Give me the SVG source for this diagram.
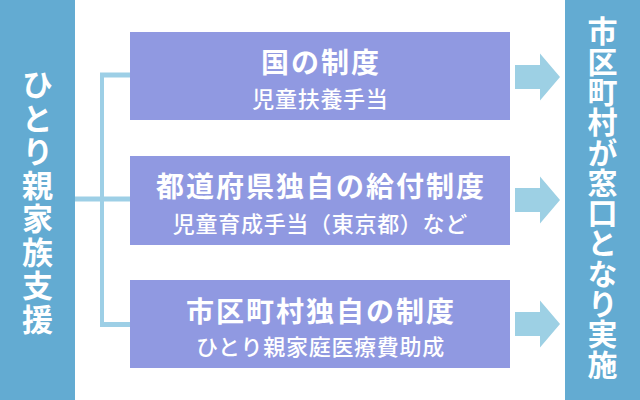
<svg xmlns="http://www.w3.org/2000/svg" width="640" height="400" viewBox="0 0 640 400">
<style>
.bar{fill:#63abd2}
.box{fill:#9099e1}
.line{stroke:#9dcfe6;fill:none}
.arrow{fill:#9dd0e4}
.t{font-family:"Noto Sans CJK JP","Noto Sans",sans-serif;fill:#ffffff}
.title{font-size:28px;font-weight:bold;letter-spacing:2px;text-anchor:middle;dominant-baseline:central}
.sub{font-size:22px;font-weight:500;letter-spacing:0.7px;text-anchor:middle;dominant-baseline:central}
.vert{writing-mode:vertical-rl;font-weight:bold}
</style>
<rect width="640" height="400" fill="#ffffff"/>
<g id="connectors">
<path class="line" stroke-width="4" d="M102,73 V327"/>
<path class="line" stroke-width="5" d="M100,75 H130 M75,199 H130 M100,324.5 H130"/>
<path class="arrow" d="M515,65 H540 V53.5 L560,77 L540,100.5 V89 H515 Z"/>
<path class="arrow" d="M515,188 H540 V176.5 L560,200 L540,223.5 V212 H515 Z"/>
<path class="arrow" d="M515,312 H540 V300.5 L560,324 L540,347.5 V336 H515 Z"/>
</g>
<g id="left">
<rect class="bar" x="0" y="0" width="75" height="400"/>
<text class="t vert" x="37.5" y="69" font-size="31" letter-spacing="2.5">ひとり親家族支援</text>
</g>
<g id="right">
<rect class="bar" x="565" y="0" width="75" height="400"/>
<text class="t vert" x="602.5" y="16" font-size="30" letter-spacing="0.3">市区町村が窓口となり実施</text>
</g>
<g id="box1">
<rect class="box" x="130" y="32" width="380" height="88"/>
<text class="t title" x="321" y="60.5">国の制度</text>
<text class="t sub" x="320.4" y="97">児童扶養手当</text>
</g>
<g id="box2">
<rect class="box" x="130" y="156" width="380" height="89"/>
<text class="t title" x="321" y="184.5">都道府県独自の給付制度</text>
<text class="t sub" x="320.4" y="222">児童育成手当（東京都）など</text>
</g>
<g id="box3">
<rect class="box" x="130" y="280" width="380" height="88"/>
<text class="t title" x="321" y="309.5">市区町村独自の制度</text>
<text class="t sub" x="320.4" y="345">ひとり親家庭医療費助成</text>
</g>
</svg>
